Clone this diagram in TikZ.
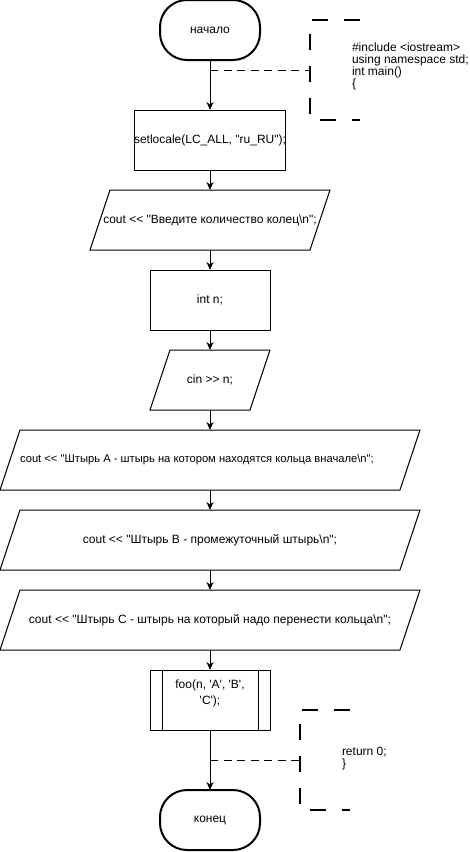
\documentclass[tikz,border=0pt]{standalone}
\usepackage{fontspec}
\setmainfont{Liberation Sans}[Ligatures=TeXOff]
\usetikzlibrary{arrows.meta,calc}
\begin{document}
\begin{tikzpicture}[x=1pt,y=-1pt,
  base/.style={inner sep=0pt, outer sep=0pt, align=center,
    font=\fontsize{12pt}{14pt}\selectfont},
  term/.style={base, draw, line width=2pt, rounded corners=27pt,
    minimum width=100pt, minimum height=60pt},
  proc/.style={base, draw, line width=1pt, minimum width=120pt, minimum height=60pt},
  iobox/.style={base, minimum height=60pt},
  frame/.style={line width=1pt, line join=miter},
  flow/.style={line width=1pt, -{Stealth[length=8pt,width=7pt,inset=2.5pt]}},
  notebox/.style={base, minimum width=50pt, minimum height=100pt},
  bracket/.style={line width=2pt, dash pattern=on 16pt off 16pt},
  noteline/.style={line width=1pt, dash pattern=on 8pt off 5.5pt},
  notetext/.style={base, anchor=west, align=left,
    font=\fontsize{12pt}{12pt}\selectfont},
]
\useasboundingbox (0,0) rectangle (470,852);

% main flow
\node[term] (start) at (210,30) {начало};
\node[proc] (setloc) at (210,140) {setlocale(LC\_ALL, "ru\_RU");};
\node[iobox, minimum width=240pt] (prompt) at (210,220) {cout << "Введите количество колец\textbackslash n";};
\node[proc] (decl) at (210,300) {int n;};
\node[iobox, minimum width=120pt] (input) at (210,380) {cin >> n;};
\node[iobox, minimum width=420pt] (pegA) at (210,460) {};
\node[base, font=\fontsize{11.2pt}{13pt}\selectfont] (pegAtext) at (197,460) {cout << "Штырь А - штырь на котором находятся кольца вначале\textbackslash n";};
\node[iobox, minimum width=420pt] (pegB) at (210,540) {cout << "Штырь В - промежуточный штырь\textbackslash n";};
\node[iobox, minimum width=420pt] (pegC) at (210,620) {cout << "Штырь С - штырь на который надо перенести кольца\textbackslash n";};
\node[proc] (call) at (210,700) {};
\node[base, font=\fontsize{12pt}{16pt}\selectfont] (calltext) at (210,693) {foo(n, 'A', 'B',\\'C');};
\node[term] (stop) at (210,820) {конец};

% parallelogram outlines
\foreach \n in {prompt,input,pegA,pegB,pegC}{
  \draw[frame] ($(\n.north west)+(20,0)$) -- (\n.north east)
    -- ($(\n.south east)+(-20,0)$) -- (\n.south west) -- cycle;
}
% side bars of the predefined process
\draw[frame] ($(call.north west)+(12,0)$) -- ($(call.south west)+(12,0)$);
\draw[frame] ($(call.north east)+(-12,0)$) -- ($(call.south east)+(-12,0)$);

% connectors
\draw[flow] (start) -- (setloc);
\draw[flow] (setloc) -- (prompt);
\draw[flow] (prompt) -- (decl);
\draw[flow] (decl) -- (input);
\draw[flow] (input) -- (pegA);
\draw[flow] (pegA) -- (pegB);
\draw[flow] (pegB) -- (pegC);
\draw[flow] (pegC) -- (call);
\draw[flow] (call) -- (stop);

% annotation: program header
\node[notebox] (head) at (335,70) {};
\draw[bracket] (head.north east) -- (head.north west) -- (head.south west) -- (head.south east);
\node[notetext] (headtext) at (352,66) {\#include <iostream>\\using namespace std;\\int main()\\\{};
\coordinate (j1) at (210,70);
\draw[noteline] (j1) -- (head.west);

% annotation: program tail
\node[notebox] (tail) at (325,760) {};
\draw[bracket] (tail.north east) -- (tail.north west) -- (tail.south west) -- (tail.south east);
\node[notetext] (tailtext) at (342,759) {return 0;\\\}};
\coordinate (j2) at (210,760);
\draw[noteline] (j2) -- (tail.west);
\end{tikzpicture}
\end{document}
